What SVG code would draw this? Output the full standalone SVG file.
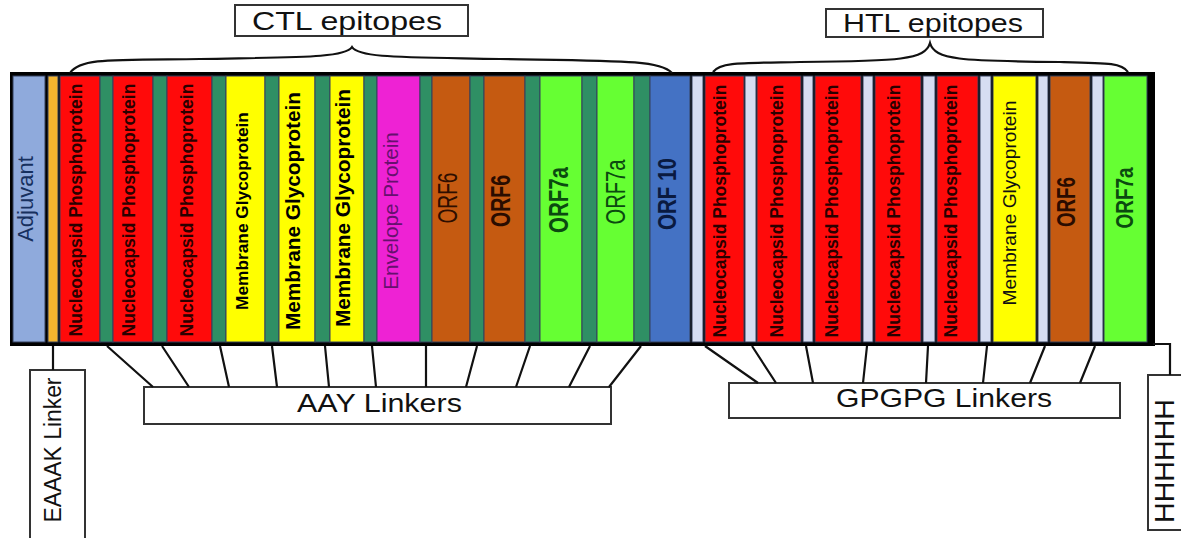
<svg xmlns="http://www.w3.org/2000/svg" width="1181" height="538" viewBox="0 0 1181 538">
<style>
text{font-family:"Liberation Sans",Arial,sans-serif}
.col{stroke:#34405c;stroke-width:1}
.adj{fill:#8faadc}
.ora{fill:#f5b52e}
.red{fill:#ff0a0a}
.aay{fill:#2f8f64}
.yel{fill:#ffff00}
.mag{fill:#ee22d4}
.brn{fill:#c55a11}
.lgr{fill:#66ff33}
.blu{fill:#4472c4}
.lav{fill:#d6ddf2}
.b{font-weight:bold}
.np{fill:#2a0000;font-size:17.5px;font-weight:bold}
.lbl{font-size:25px;fill:#111}
.box{fill:#fff;stroke:#333;stroke-width:2}
.con{stroke:#111;stroke-width:2.2;fill:none}
</style>
<rect width="1181" height="538" fill="#fff"/>
<g id="bar">
<rect x="10" y="72" width="1145" height="274" fill="#000"/>
</g>
<g id="adjuvant"><rect class="col adj" x="13" y="76" width="32" height="266"/><text transform="translate(33,199) rotate(-90)" text-anchor="middle" font-size="22" fill="#17305e">Adjuvant</text></g>
<g id="eaaak-strip"><rect class="col ora" x="48" y="76" width="10" height="266"/></g>
<g id="ctl-np1"><rect class="col red" x="60" y="76" width="40" height="266"/><text class="np" transform="translate(82,210) rotate(-90)" text-anchor="middle">Nucleocapsid Phosphoprotein</text></g>
<g id="aay1"><rect class="col aay" x="100" y="76" width="13" height="266"/></g>
<g id="ctl-np2"><rect class="col red" x="113" y="76" width="40" height="266"/><text class="np" transform="translate(135,210) rotate(-90)" text-anchor="middle">Nucleocapsid Phosphoprotein</text></g>
<g id="aay2"><rect class="col aay" x="153" y="76" width="14" height="266"/></g>
<g id="ctl-np3"><rect class="col red" x="167" y="76" width="45" height="266"/><text class="np" transform="translate(193,210) rotate(-90)" text-anchor="middle">Nucleocapsid Phosphoprotein</text></g>
<g id="aay3"><rect class="col aay" x="212" y="76" width="14" height="266"/></g>
<g id="ctl-mg1"><rect class="col yel" x="226" y="76" width="39" height="266"/><text class="b" transform="translate(248,211) rotate(-90)" text-anchor="middle" font-size="17.3" fill="#000">Membrane Glycoprotein</text></g>
<g id="aay4"><rect class="col aay" x="265" y="76" width="14" height="266"/></g>
<g id="ctl-mg2"><rect class="col yel" x="279" y="76" width="36" height="266"/><text class="b" transform="translate(300,211) rotate(-90)" text-anchor="middle" font-size="20.8" fill="#000">Membrane Glycoprotein</text></g>
<g id="aay5"><rect class="col aay" x="315" y="76" width="15" height="266"/></g>
<g id="ctl-mg3"><rect class="col yel" x="330" y="76" width="34" height="266"/><text class="b" transform="translate(350,208) rotate(-90)" text-anchor="middle" font-size="20.8" fill="#000">Membrane Glycoprotein</text></g>
<g id="aay6"><rect class="col aay" x="364" y="76" width="13" height="266"/></g>
<g id="ctl-env"><rect class="col mag" x="377" y="76" width="43" height="266"/><text transform="translate(398,211) rotate(-90)" text-anchor="middle" font-size="20.7" fill="#66106e">Envelope Protein</text></g>
<g id="aay7"><rect class="col aay" x="420" y="76" width="12" height="266"/></g>
<g id="ctl-orf6a"><rect class="col brn" x="432" y="76" width="38" height="266"/><text transform="translate(457,198) rotate(-90)" text-anchor="middle" font-size="27" textLength="51" lengthAdjust="spacingAndGlyphs" fill="#2e0e00">ORF6</text></g>
<g id="aay8"><rect class="col aay" x="470" y="76" width="14" height="266"/></g>
<g id="ctl-orf6b"><rect class="col brn" x="484" y="76" width="41" height="266"/><text class="b" transform="translate(510,201) rotate(-90)" text-anchor="middle" font-size="27" textLength="52" lengthAdjust="spacingAndGlyphs" fill="#2a0c00">ORF6</text></g>
<g id="aay9"><rect class="col aay" x="525" y="76" width="15" height="266"/></g>
<g id="ctl-orf7a1"><rect class="col lgr" x="540" y="76" width="42" height="266"/><text class="b" transform="translate(568,200) rotate(-90)" text-anchor="middle" font-size="27" textLength="66" lengthAdjust="spacingAndGlyphs" fill="#0b4a10">ORF7a</text></g>
<g id="aay10"><rect class="col aay" x="582" y="76" width="15" height="266"/></g>
<g id="ctl-orf7a2"><rect class="col lgr" x="597" y="76" width="37" height="266"/><text transform="translate(625,192) rotate(-90)" text-anchor="middle" font-size="27" textLength="65" lengthAdjust="spacingAndGlyphs" fill="#0b4a10">ORF7a</text></g>
<g id="aay11"><rect class="col aay" x="634" y="76" width="16" height="266"/></g>
<g id="ctl-orf10"><rect class="col blu" x="650" y="76" width="40" height="266"/><text class="b" transform="translate(676,194) rotate(-90)" text-anchor="middle" font-size="26" textLength="72" lengthAdjust="spacingAndGlyphs" fill="#0a1a40">ORF 10</text></g>
<g id="gp1"><rect class="col lav" x="692" y="76" width="11" height="266"/></g>
<g id="htl-np1"><rect class="col red" x="705" y="76" width="39" height="266"/><text class="np" transform="translate(726,211) rotate(-90)" text-anchor="middle">Nucleocapsid Phosphoprotein</text></g>
<g id="gp2"><rect class="col lav" x="745" y="76" width="11" height="266"/></g>
<g id="htl-np2"><rect class="col red" x="757" y="76" width="44" height="266"/><text class="np" transform="translate(783,211) rotate(-90)" text-anchor="middle">Nucleocapsid Phosphoprotein</text></g>
<g id="gp3"><rect class="col lav" x="803" y="76" width="10" height="266"/></g>
<g id="htl-np3"><rect class="col red" x="815" y="76" width="46" height="266"/><text class="np" transform="translate(838,211) rotate(-90)" text-anchor="middle">Nucleocapsid Phosphoprotein</text></g>
<g id="gp4"><rect class="col lav" x="863" y="76" width="10" height="266"/></g>
<g id="htl-np4"><rect class="col red" x="875" y="76" width="46" height="266"/><text class="np" transform="translate(900,211) rotate(-90)" text-anchor="middle">Nucleocapsid Phosphoprotein</text></g>
<g id="gp5"><rect class="col lav" x="923" y="76" width="12" height="266"/></g>
<g id="htl-np5"><rect class="col red" x="937" y="76" width="41" height="266"/><text class="np" transform="translate(957,211) rotate(-90)" text-anchor="middle">Nucleocapsid Phosphoprotein</text></g>
<g id="gp6"><rect class="col lav" x="980" y="76" width="11" height="266"/></g>
<g id="htl-mg"><rect class="col yel" x="993" y="76" width="43" height="266"/><text transform="translate(1016,203) rotate(-90)" text-anchor="middle" font-size="19.2" fill="#111">Membrane Glycoprotein</text></g>
<g id="gp7"><rect class="col lav" x="1038" y="76" width="10" height="266"/></g>
<g id="htl-orf6"><rect class="col brn" x="1050" y="76" width="40" height="266"/><text class="b" transform="translate(1075,202) rotate(-90)" text-anchor="middle" font-size="25" textLength="50" lengthAdjust="spacingAndGlyphs" fill="#2a0c00">ORF6</text></g>
<g id="gp8"><rect class="col lav" x="1092" y="76" width="11" height="266"/></g>
<g id="htl-orf7a"><rect class="col lgr" x="1104" y="76" width="43" height="266"/><text class="b" transform="translate(1133,198) rotate(-90)" text-anchor="middle" font-size="23" textLength="61" lengthAdjust="spacingAndGlyphs" fill="#0b4a10">ORF7a</text></g>
<g id="ctl-label"><rect class="box" x="235" y="5" width="233" height="31"/><text class="lbl" x="252" y="30" textLength="190" lengthAdjust="spacingAndGlyphs">CTL epitopes</text></g>
<g id="htl-label"><rect class="box" x="826" y="9" width="217" height="28"/><text class="lbl" x="843" y="32" font-size="24" textLength="180" lengthAdjust="spacingAndGlyphs">HTL epitopes</text></g>
<g id="aay-label"><rect class="box" x="144" y="387" width="467" height="37"/><text class="lbl" x="297" y="412" textLength="165" lengthAdjust="spacingAndGlyphs">AAY Linkers</text></g>
<g id="gpgpg-label"><rect class="box" x="729" y="383" width="391" height="35"/><text class="lbl" x="836" y="407" textLength="216" lengthAdjust="spacingAndGlyphs">GPGPG Linkers</text></g>
<g id="eaaak-label"><rect class="box" x="30" y="370" width="55" height="175"/><text transform="translate(61,450) rotate(-90)" text-anchor="middle" font-size="23" textLength="145" lengthAdjust="spacingAndGlyphs" fill="#111">EAAAK Linker</text></g>
<g id="his-label"><rect class="box" x="1148" y="375" width="50" height="155"/><text transform="translate(1174,461) rotate(-90)" text-anchor="middle" font-size="28" textLength="124" lengthAdjust="spacingAndGlyphs" fill="#111">HHHHHH</text></g>
<g id="connectors">
<path class="con" d="M70,73 C80,58 110,60 200,59 C300,57 345,58 352,47 C359,58 400,57 500,59 C620,61 660,60 672,73"/>
<path class="con" d="M713,72 C720,62 740,63 800,62 C900,61 925,60 930,43 C935,60 960,61 1060,62 C1110,63 1122,63 1128,72"/>
<path class="con" d="M53,346 V370"/>
<path class="con" d="M107,346 L153,387 M162,346 L189,387 M220,346 L229,387 M272,346 L277,387 M325,346 L329,387 M372,346 L376,387 M426,346 L426,387 M477,346 L466,387 M530,346 L516,387 M590,346 L569,387 M641,346 L609,387"/>
<path class="con" d="M705,346 L758,383 M752,346 L776,383 M806,346 L813,383 M867,346 L863,383 M928,346 L926,383 M987,346 L983,383 M1045,346 L1030,383 M1095,346 L1080,383"/>
<path class="con" d="M1153,344 H1170 V375"/>
</g>
</svg>
